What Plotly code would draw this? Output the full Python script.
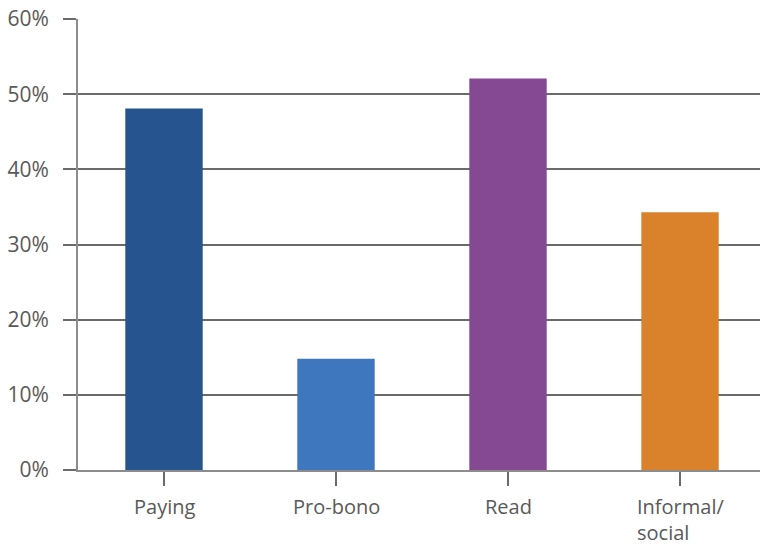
import plotly.graph_objects as go

categories = ["Paying", "Pro-bono", "Read", "Informal/<br>social"]
values = [0.481, 0.148, 0.521, 0.343]
colors = ["#25548F", "#3F77BE", "#854893", "#D9812B"]
y_tickvals = [0, 0.1, 0.2, 0.3, 0.4, 0.5, 0.6]
y_ticktext = ["0%", "10%", "20%", "30%", "40%", "50%", "60%"]

fig = go.Figure()
fig.add_trace(go.Bar(
    x=list(range(len(categories))),
    y=values,
    marker=dict(color=colors, line=dict(width=0)),
    width=0.45,
    hoverinfo="skip",
))

for i, c in enumerate(categories):
    fig.add_annotation(
        x=i, y=0, xref="x", yref="paper",
        text=c, showarrow=False,
        xanchor="center", yanchor="top", align="left",
        yshift=-22, borderpad=0,
        font=dict(family="Open Sans", size=20, color="#595959"),
    )

fig.update_layout(
    width=760, height=548,
    margin=dict(l=78, r=0, t=19, b=78),
    plot_bgcolor="white", paper_bgcolor="white",
    showlegend=False,
    xaxis=dict(
        range=[-0.5, 3.465],
        tickvals=[0, 1, 2, 3],
        ticktext=["", "", "", ""],
        tickson="boundaries",
        ticks="outside", ticklen=14, tickwidth=2, tickcolor="#6b6b6b",
        showgrid=False, zeroline=False,
        showline=True, linecolor="#8c8c8c", linewidth=2,
        fixedrange=True,
    ),
    yaxis=dict(
        range=[0, 0.6],
        tickvals=y_tickvals, ticktext=y_ticktext,
        ticks="outside", ticklen=13, tickwidth=2, tickcolor="#6b6b6b",
        ticklabelstandoff=10,
        showgrid=True, gridcolor="#6b6b6b", gridwidth=2,
        zeroline=False,
        showline=True, linecolor="#8c8c8c", linewidth=2,
        tickfont=dict(family="Open Sans", size=21, color="#595959"),
        fixedrange=True,
    ),
)

fig.write_html("out.html")
